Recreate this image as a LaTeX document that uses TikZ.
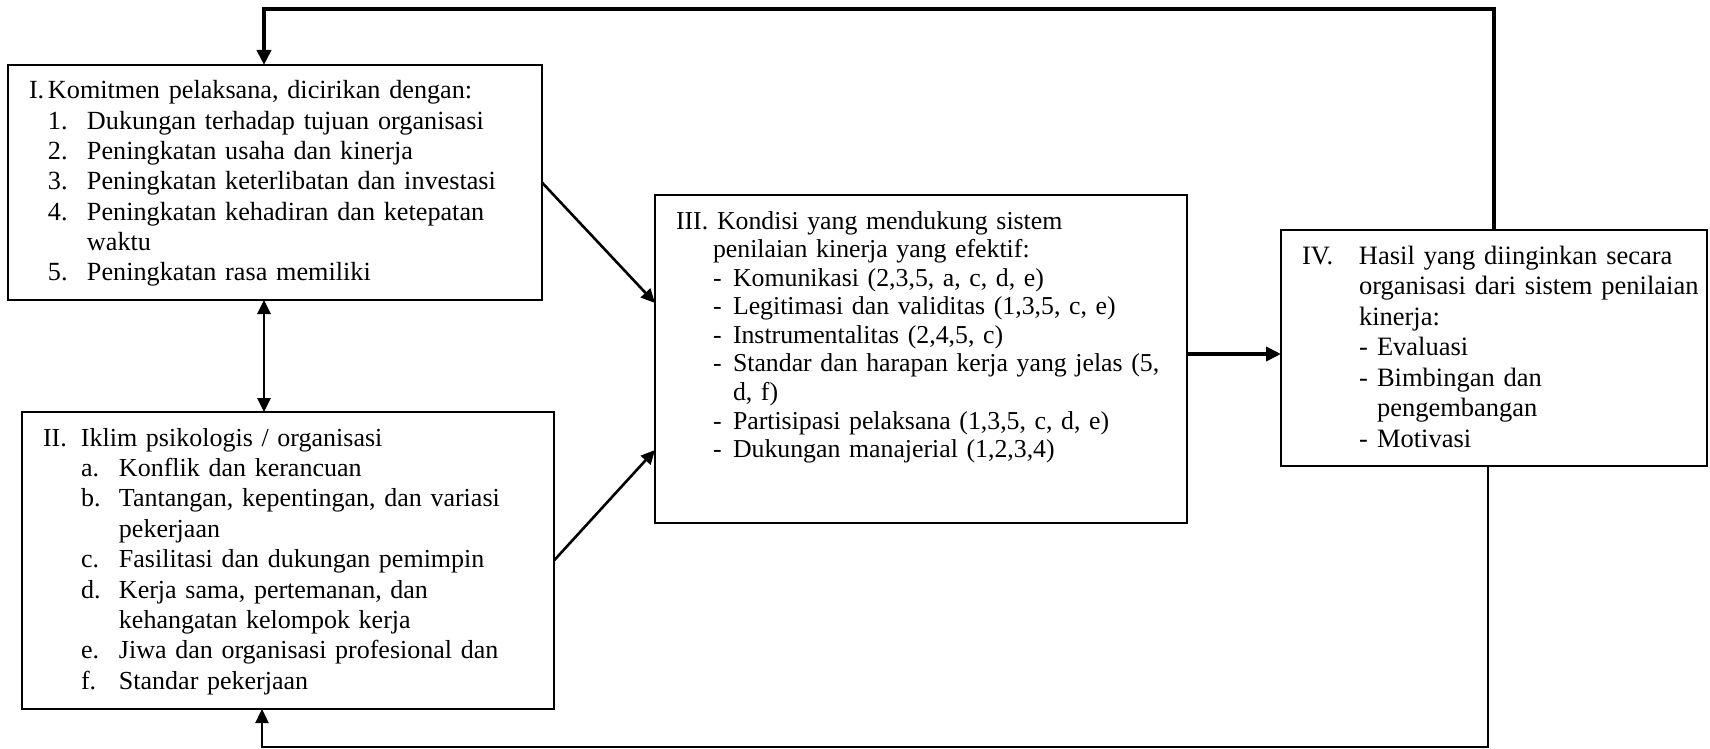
\documentclass[tikz,border=0pt]{standalone}
\usepackage{fontspec}
\setmainfont{Liberation Serif}
\usetikzlibrary{arrows.meta}
\newcommand{\lbl}[3]{\hspace*{#1}\makebox[#2][l]{#3}}

\begin{document}
\begin{tikzpicture}[x=0.5pt, y=-0.5pt,
    >={Triangle[length=7pt,width=6.5pt]},
    block/.style={draw, line width=0.8pt, anchor=north west, outer sep=0pt, inner sep=0pt,
        align=left, text height=17pt, font=\fontsize{13.1pt}{15.15pt}\selectfont},
    flow/.style={->, line width=1.3pt},
    feedback/.style={->, line width=2pt, >={Triangle[length=7.5pt,width=7pt]}}]
    \useasboundingbox (0,0) rectangle (1710,749);

    \node[block, text width=267pt, text depth=100.5pt] (komitmen) at (8,65) {%
        \lbl{10.5pt}{9.5pt}{I.}Komitmen pelaksana, dicirikan dengan:\\
        \lbl{20pt}{19.5pt}{1.}Dukungan terhadap tujuan organisasi\\
        \lbl{20pt}{19.5pt}{2.}Peningkatan usaha dan kinerja\\
        \lbl{20pt}{19.5pt}{3.}Peningkatan keterlibatan dan investasi\\
        \lbl{20pt}{19.5pt}{4.}Peningkatan kehadiran dan ketepatan\\
        \hspace*{39.5pt}waktu\\
        \lbl{20pt}{19.5pt}{5.}Peningkatan rasa memiliki};

    \node[block, text width=266pt, text depth=131.5pt, font=\fontsize{13pt}{15.2pt}\selectfont] (iklim) at (22,412) {%
        \lbl{10.5pt}{19pt}{II.}Iklim psikologis / organisasi\\
        \lbl{29.5pt}{19pt}{a.}Konflik dan kerancuan\\
        \lbl{29.5pt}{19pt}{b.}Tantangan, kepentingan, dan variasi\\
        \hspace*{48.5pt}pekerjaan\\
        \lbl{29.5pt}{19pt}{c.}Fasilitasi dan dukungan pemimpin\\
        \lbl{29.5pt}{19pt}{d.}Kerja sama, pertemanan, dan\\
        \hspace*{48.5pt}kehangatan kelompok kerja\\
        \lbl{29.5pt}{19pt}{e.}Jiwa dan organisasi profesional dan\\
        \lbl{29.5pt}{19pt}{f.}Standar pekerjaan};

    \node[block, text width=266pt, text depth=147pt, font=\fontsize{12.9pt}{14.3pt}\selectfont] (kondisi) at (655,195) {%
        \lbl{10.5pt}{20.5pt}{III.}Kondisi yang mendukung sistem\\
        \hspace*{29pt}penilaian kinerja yang efektif:\\
        \lbl{29pt}{10pt}{-}Komunikasi (2,3,5, a, c, d, e)\\
        \lbl{29pt}{10pt}{-}Legitimasi dan validitas (1,3,5, c, e)\\
        \lbl{29pt}{10pt}{-}Instrumentalitas (2,4,5, c)\\
        \lbl{29pt}{10pt}{-}Standar dan harapan kerja yang jelas (5,\\
        \hspace*{39pt}d, f)\\
        \lbl{29pt}{10pt}{-}Partisipasi pelaksana (1,3,5, c, d, e)\\
        \lbl{29pt}{10pt}{-}Dukungan manajerial (1,2,3,4)};

    \node[block, text width=213pt, text depth=101pt, font=\fontsize{13.25pt}{15.3pt}\selectfont] (hasil) at (1281,230) {%
        \lbl{10.5pt}{28.5pt}{IV.}Hasil yang diinginkan secara\\
        \hspace*{39pt}organisasi dari sistem penilaian\\
        \hspace*{39pt}kinerja:\\
        \lbl{39pt}{9pt}{-}Evaluasi\\
        \lbl{39pt}{9pt}{-}Bimbingan dan\\
        \hspace*{48pt}pengembangan\\
        \lbl{39pt}{9pt}{-}Motivasi};

    \coordinate (top) at (0,9);
    \coordinate (bottom) at (0,747);
    \coordinate (out) at ([yshift=-3pt]hasil.west);

    \draw[flow] (komitmen.east) -- ([yshift=28pt]kondisi.west);
    \draw[flow] (iklim.east) -- ([yshift=-45.5pt]kondisi.west);
    \draw[flow, <->] ([xshift=-5.5pt]komitmen.south) -- ([xshift=-5.5pt]komitmen.south |- iklim.north);
    \draw[feedback] (kondisi.east |- out) -- (out);
    \draw[feedback] (hasil.north) -- (hasil.north |- top) -| ([xshift=-5.5pt]komitmen.north);
    \draw[flow, line width=1.2pt] ([xshift=-3pt]hasil.south) -- ([xshift=-3pt]hasil.south |- bottom) -| ([xshift=-13pt]iklim.south);
\end{tikzpicture}
\end{document}
